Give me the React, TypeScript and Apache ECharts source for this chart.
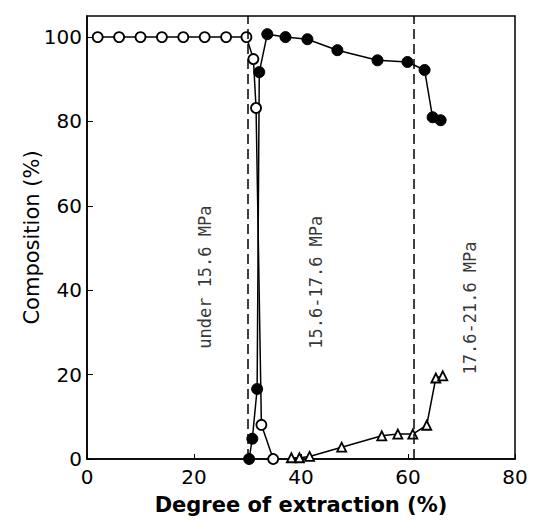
import React, { useEffect, useRef } from "react";
import * as echarts from "echarts";

// Open circles (one component)
const openX = [2, 6, 10, 14, 18, 22, 26, 29.8, 31.1, 31.6, 32.6, 34.8];
const openY = [100, 100, 100, 100, 100, 100, 100, 100, 94.8, 83.2, 8.1, 0];
// Filled circles
const filledX = [30.3, 30.9, 31.8, 32.2, 33.7, 37.1, 41.2, 46.8, 54.3, 59.9, 63.1, 64.6, 66.1];
const filledY = [0, 4.8, 16.6, 91.7, 100.7, 100, 99.5, 96.9, 94.5, 94.1, 92.2, 81, 80.3];
// Open triangles
const triX = [38.2, 39.7, 41.6, 47.6, 55.1, 58.1, 60.9, 63.5, 65.2, 66.5];
const triY = [0.3, 0.3, 0.6, 2.8, 5.5, 5.9, 5.9, 8.0, 19.2, 19.7];
// Pressure boundaries
const boundaries = [30, 61];
const regionLabels = ["under 15.6 MPa", "15.6-17.6 MPa", "17.6-21.6 MPa"];
const regionLabelPos = [
  [22.1, 43.1],
  [42.8, 41.9],
  [71.6, 35.8],
];

const xTicks = [0, 20, 40, 60, 80];

const zip = (xs: number[], ys: number[]) => xs.map((x, i) => [x, ys[i]]);

export default function App() {
  const ref = useRef<HTMLDivElement>(null);
  useEffect(() => {
    if (!ref.current) return;
    const chart = echarts.init(ref.current, undefined, { renderer: "svg" });
    const axisFont = "DejaVu Sans";
    chart.setOption({
      animation: false,
      backgroundColor: "#ffffff",
      grid: {
        left: 87,
        right: 18,
        top: 16,
        bottom: 71,
        show: true,
        borderColor: "#000",
        borderWidth: 1.5,
        containLabel: false,
      },
      xAxis: {
        type: "value",
        min: 0,
        max: 80,
        interval: 20,
        name: "Degree of extraction (%)",
        nameLocation: "middle",
        nameGap: 35,
        nameTextStyle: { fontFamily: axisFont, fontSize: 21, fontWeight: "bold", color: "#000" },
        axisLine: { onZero: false, lineStyle: { color: "#000", width: 1.5 } },
        axisTick: { inside: true, length: 5, lineStyle: { color: "#000" } },
        axisLabel: {
          fontFamily: axisFont,
          fontSize: 20,
          color: "#000",
          margin: 8,
          formatter: (v: number) => (xTicks.includes(v) ? String(v) : ""),
        },
        splitLine: { show: false },
      },
      yAxis: {
        type: "value",
        min: 0,
        max: 105,
        interval: 20,
        name: "Composition (%)",
        nameLocation: "middle",
        nameGap: 45,
        nameMoveOverlap: false,
        nameRotate: 90,
        nameTextStyle: { fontFamily: axisFont, fontSize: 21, color: "#000" },
        axisLine: { onZero: false, lineStyle: { color: "#000", width: 1.5 } },
        axisTick: { inside: true, length: 6, lineStyle: { color: "#000" } },
        axisLabel: {
          fontFamily: axisFont,
          fontSize: 20,
          color: "#000",
          margin: 5,
          showMaxLabel: false,
        },
        splitLine: { show: false },
      },
      series: [
        {
          type: "line",
          data: zip(filledX, filledY),
          symbol: "circle",
          symbolSize: 11,
          itemStyle: { color: "#000", borderColor: "#000" },
          lineStyle: { color: "#000", width: 1.5 },
          z: 3,
          markLine: {
            silent: true,
            symbol: "none",
            label: { show: false },
            lineStyle: { color: "#000", type: [10, 5], width: 1.5 },
            data: boundaries.map((b) => ({ xAxis: b })),
          },
        },
        {
          type: "line",
          data: zip(openX, openY),
          symbol: "circle",
          symbolSize: 10,
          itemStyle: { color: "#fff", borderColor: "#000", borderWidth: 1.8 },
          lineStyle: { color: "#000", width: 1.5 },
          z: 4,
        },
        {
          type: "line",
          data: zip(triX, triY),
          symbol: "triangle",
          symbolSize: 9,
          itemStyle: { color: "#fff", borderColor: "#000", borderWidth: 1.8 },
          lineStyle: { color: "#000", width: 1.5 },
          z: 4,
        },
        {
          type: "scatter",
          data: regionLabelPos.map((p, i) => ({ value: p, name: regionLabels[i] })),
          symbolSize: 0,
          silent: true,
          label: {
            show: true,
            position: "inside",
            rotate: 90,
            formatter: (p: any) => p.name,
            fontFamily: "DejaVu Sans Mono",
            fontSize: 17,
            color: "#000",
          },
          z: 5,
        },
      ],
    });
    return () => chart.dispose();
  }, []);
  return (
    <div
      ref={ref}
      style={{ position: "fixed", left: 0, top: 0, width: 533, height: 530 }}
    />
  );
}
